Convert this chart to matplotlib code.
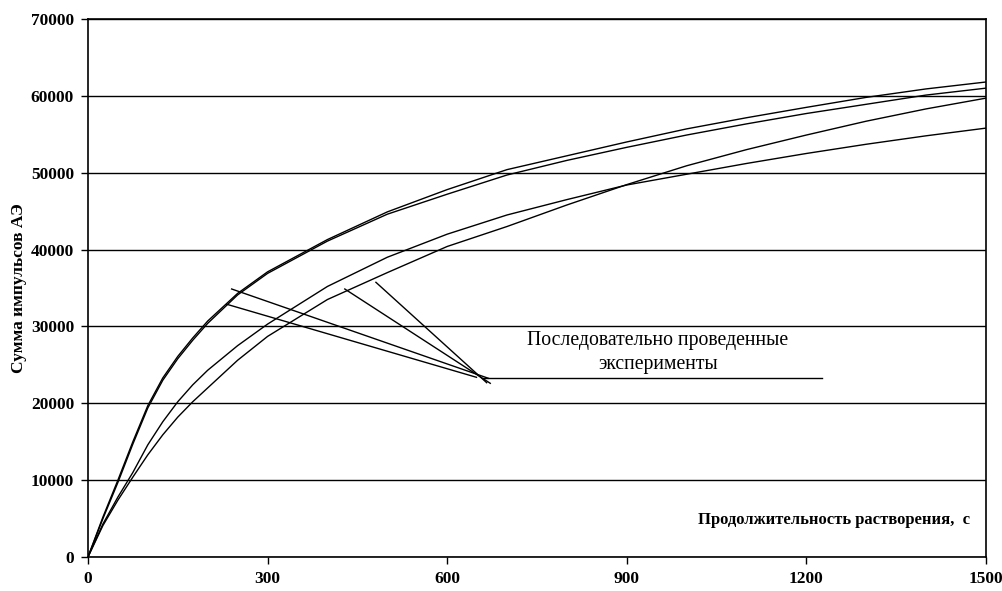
#! /usr/bin/env python

import matplotlib.pyplot as plt

plt.rcParams['font.family'] = ['Liberation Serif', 'DejaVu Serif']

# Time points (s) and the four consecutive runs
time_s = [0, 25, 50, 75, 100, 125, 150, 175, 200, 250, 300, 400, 500, 600,
          700, 800, 900, 1000, 1100, 1200, 1300, 1400, 1500]

run_a = [0, 5200, 10000, 15000, 19700, 23300, 26100, 28500, 30700, 34300,
         37100, 41300, 44900, 47800, 50400, 52200, 54000, 55700, 57150,
         58500, 59800, 60900, 61800]
run_b = [0, 5000, 9700, 14700, 19400, 23000, 25800, 28200, 30400, 34100,
         36900, 41100, 44600, 47200, 49700, 51600, 53300, 54900, 56350,
         57700, 58900, 60100, 61000]
run_c = [0, 4100, 7400, 10400, 13300, 15900, 18200, 20200, 22000, 25600,
         28700, 33500, 37000, 40400, 43000, 45800, 48450, 50900, 53000,
         54900, 56700, 58300, 59700]
run_d = [0, 4300, 7800, 11000, 14600, 17600, 20200, 22400, 24300, 27500,
         30300, 35200, 39000, 42000, 44500, 46500, 48400, 49800, 51200,
         52500, 53700, 54800, 55800]

runs = [run_a, run_b, run_c, run_d]

# Leader lines from each curve to the caption: (x0, y0, x1, y1)
leader_lines = [
    (240, 34870, 669, 23250),
    (232, 32880, 649, 23380),
    (429, 34870, 672, 22600),
    (481, 35740, 666, 22680),
]
caption_line = (660, 1226, 23250)

x_ticks = [0, 300, 600, 900, 1200, 1500]
y_ticks = [0, 10000, 20000, 30000, 40000, 50000, 60000, 70000]

fig = plt.figure(figsize=(10.03, 5.91), dpi=100)
ax = fig.add_axes([0.0877, 0.0575, 0.8953, 0.9104])

for run in runs:
    ax.plot(time_s, run, color='black', linewidth=1.0)

for x0, y0, x1, y1 in leader_lines:
    ax.plot([x0, x1], [y0, y1], color='black', linewidth=1.0)
ax.plot([caption_line[0], caption_line[1]], [caption_line[2], caption_line[2]],
        color='black', linewidth=1.0)

ax.text(952, 26600, "Последовательно проведенные\nэксперименты",
        ha='center', va='center', fontsize=14.2, linespacing=1.3)

ax.text(1473, 4800, "Продолжительность растворения,  с",
        ha='right', va='center', fontsize=12, fontweight='bold')

ax.set_xlim(0, 1500)
ax.set_ylim(0, 70000)
ax.set_xticks(x_ticks)
ax.set_yticks(y_ticks)
ax.set_xticklabels([str(v) for v in x_ticks], fontweight='bold', fontsize=12.5)
ax.set_yticklabels([str(v) for v in y_ticks], fontweight='bold', fontsize=12.5)
ax.tick_params(direction='out', length=5, width=1, color='black', pad=5)

# Horizontal grid only, as in the original
ax.yaxis.grid(True, color='black', linewidth=1.0)
ax.set_axisbelow(True)
for spine in ax.spines.values():
    spine.set_linewidth(1.2)
    spine.set_color('black')

ax.set_ylabel("Сумма импульсов АЭ", fontweight='bold', fontsize=12.5, labelpad=3)

fig.savefig("out.png", dpi=100)
